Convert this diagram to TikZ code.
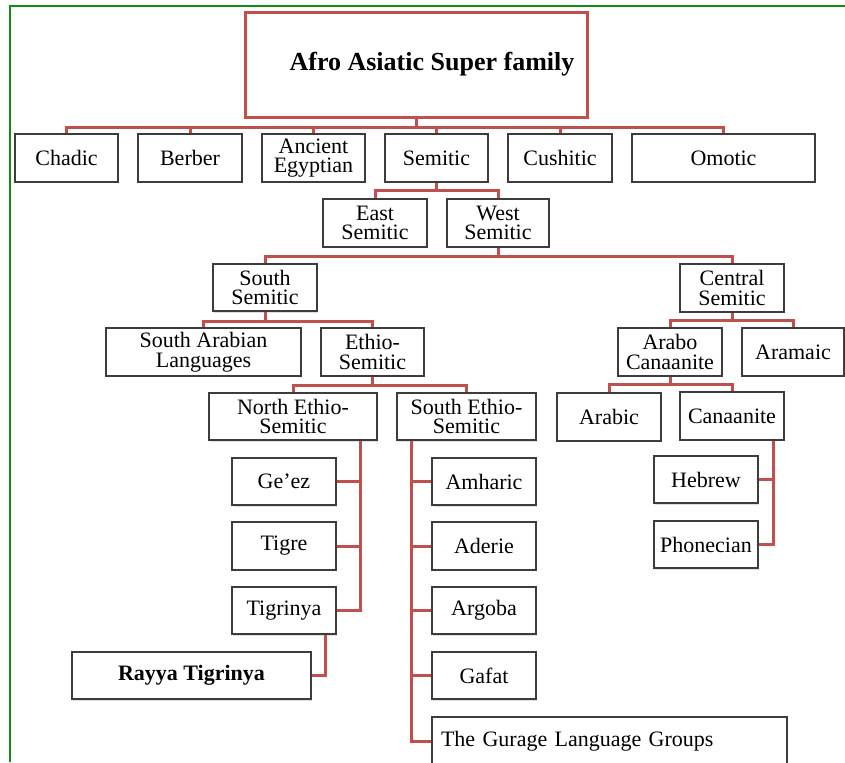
\documentclass[tikz,border=0pt]{standalone}
\usepackage{fontspec}
\setmainfont{Liberation Serif}
\usetikzlibrary{shadows}
\definecolor{linkred}{RGB}{192,80,77}
\definecolor{boxgray}{RGB}{60,60,60}
\definecolor{framegreen}{RGB}{20,140,20}

\begin{document}
\begin{tikzpicture}[x=0.5pt, y=-0.5pt,
    lang/.style={draw=boxgray, line width=0.8pt, fill=white, align=center, inner sep=1pt,
      minimum width=52pt, minimum height=23.75pt, font=\fontsize{11}{9.75}\selectfont,
      drop shadow={shadow xshift=0.5pt, shadow yshift=-0.8pt, opacity=0.25}},
    link/.style={draw=linkred, line width=1.5pt},
  ]
    \useasboundingbox (0,0) rectangle (845,762);
    % \draw[very thin,color=gray,step=50] (0,0) grid (845,762);
    \draw[framegreen, line width=0.6pt] (10,762) -- (10,6) -- (845,6);

    % top of the tree
    \node[draw=linkred, line width=1.5pt, fill=white, minimum width=171pt, minimum height=52.5pt,
      font=\fontsize{13}{15}\selectfont\bfseries] (root) at (416,64.5) {\hspace*{16pt}Afro Asiatic Super family};
    \node[lang, minimum width=51.5pt] (chadic) at (66.5,158) {Chadic};
    \node[lang] (berber) at (190,158) {Berber};
    \node[lang, minimum width=51.5pt] (egypt) at (313.5,158) {Ancient\\Egyptian};
    \node[lang, minimum width=51.5pt] (semitic) at (436.5,158) {Semitic};
    \node[lang] (cushitic) at (560,158) {Cushitic};
    \node[lang, minimum width=91.5pt] (omotic) at (723.5,158) {Omotic};

    \node[lang] (east) at (375,223) {East\\Semitic};
    \node[lang, minimum width=51pt] (west) at (498,223) {West\\Semitic};

    \node[lang] (south) at (265,287.5) {South\\Semitic};
    \node[lang] (central) at (732,288) {Central\\Semitic};

    \node[lang, minimum width=97.5pt] (sarab) at (203.5,352) {South Arabian\\Languages};
    \node[lang, minimum width=51.5pt] (ethio) at (372.5,352) {Ethio-\\Semitic};
    \node[lang] (arabo) at (670,352) {Arabo\\Canaanite};
    \node[lang, minimum width=51pt] (aramaic) at (793,352) {Aramaic};

    \node[lang, minimum width=84pt] (north) at (293,416.5) {North Ethio-\\Semitic};
    \node[lang, minimum width=69.5pt] (southeth) at (466.5,416.5) {South Ethio-\\Semitic};
    \node[lang] (arabic) at (609,417) {Arabic};
    \node[lang] (canaan) at (732,416) {Canaanite};

    % north ethio-semitic branch
    \node[lang] (geez) at (284,481.5) {Ge’ez};
    \node[lang] (tigre) at (284,546) {Tigre};
    \node[lang] (tigrinya) at (284,610.5) {Tigrinya};
    \node[lang, minimum width=119.5pt, font=\fontsize{11}{9.75}\selectfont\bfseries] (rayya) at (191.5,675.5) {Rayya Tigrinya};

    % south ethio-semitic branch
    \node[lang] (amharic) at (484,481.5) {Amharic};
    \node[lang] (aderie) at (484,546) {Aderie};
    \node[lang] (argoba) at (484,610.5) {Argoba};
    \node[lang] (gafat) at (484,675.5) {Gafat};
    \node[lang, minimum width=177.5pt, text width=168.5pt, inner xsep=4.5pt, align=left] (gurage) at (609.5,741) {The Gurage Language Groups};

    % canaanite branch
    \node[lang] (hebrew) at (706,479.5) {Hebrew};
    \node[lang] (phon) at (706,544.5) {Phonecian};

    % connectors
    \draw[link] (root.south) -- ++(0,9) coordinate (bus1);
    \foreach \c in {chadic,berber,egypt,semitic,cushitic,omotic}
        \draw[link] (\c.north) |- (bus1);
    \draw[link] (semitic.south) -- ++(0,8) coordinate (bus2);
    \foreach \c in {east,west}
        \draw[link] (\c.north) |- (bus2);
    \draw[link] (west.south) -- ++(0,9) coordinate (bus3);
    \foreach \c in {south,central}
        \draw[link] (\c.north) |- (bus3);
    \draw[link] (south.south) -- ++(0,9) coordinate (bus4);
    \foreach \c in {sarab,ethio}
        \draw[link] (\c.north) |- (bus4);
    \draw[link] (central.south) -- ++(0,8) coordinate (bus5);
    \foreach \c in {arabo,aramaic}
        \draw[link] (\c.north) |- (bus5);
    \draw[link] (ethio.south) -- ++(0,9) coordinate (bus6);
    \foreach \c in {north,southeth}
        \draw[link] (\c.north) |- (bus6);
    \draw[link] (arabo.south) -- ++(0,8) coordinate (bus7);
    \foreach \c in {arabic,canaan}
        \draw[link] (\c.north) |- (bus7);

    \coordinate (ntrunk) at ([xshift=-8.5pt]north.south east);
    \draw[link] (ntrunk) |- (tigrinya.east);
    \foreach \c in {geez,tigre}
        \draw[link] (\c.east) -- (\c.east -| ntrunk);
    \draw[link] ([xshift=-5.5pt]tigrinya.south east) |- (rayya.east);

    \coordinate (strunk) at ([xshift=7.5pt]southeth.south west);
    \draw[link] (strunk) |- (gurage.west);
    \foreach \c in {amharic,aderie,argoba,gafat}
        \draw[link] (\c.west) -- (\c.west -| strunk);

    \coordinate (ctrunk) at ([xshift=-5.5pt]canaan.south east);
    \draw[link] (ctrunk) |- (phon.east);
    \draw[link] (hebrew.east) -- (hebrew.east -| ctrunk);
\end{tikzpicture}
\end{document}
